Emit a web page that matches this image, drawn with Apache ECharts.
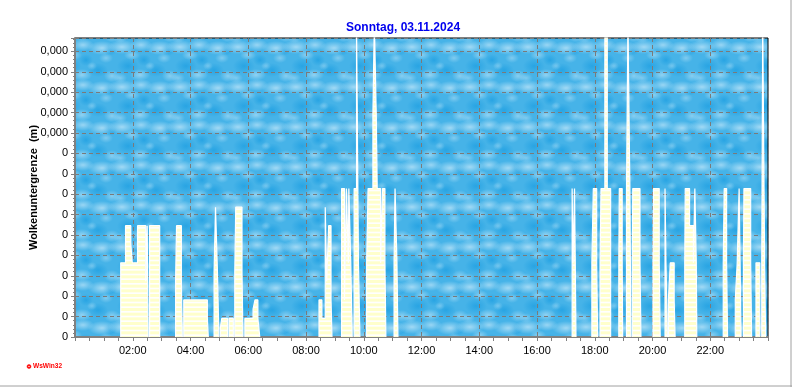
<!DOCTYPE html>
<html><head><meta charset="utf-8">
<script src="https://cdn.jsdelivr.net/npm/echarts@6/dist/echarts.min.js"></script>
<style>html,body{margin:0;padding:0;background:#fff}#c{width:792px;height:387px}</style>
</head><body><div id="c"></div>
<script>
// ---- data ----
const title = 'Sonntag, 03.11.2024';
const yName = 'Wolkenuntergrenze  (m)';
const hourLabels = ['00:00','02:00','04:00','06:00','08:00','10:00','12:00','14:00','16:00','18:00','20:00','22:00','24:00'];
const yTickLabelLow = '0';
const yTickLabelHigh = '0,000';
// cloud base segments: [start minute, end minute, level]
const segments = [
  [95,105,4],[105,116,6],[116,119,5],[119,130,4],[130,147,6],[147,150,3],[150,152,6],
  [155,176,6],
  [209,211,3],[211,221,6],[221,223,3],
  [226,275,2],[275,277,1],
  [289,292,3.5],[292,296,7],[296,299,3.5],
  [302,305,0.5],[305,317,1],
  [320,329,1],
  [332,334,3.5],[334,347,7],[347,349,3.5],
  [353,370,1],[370,374,1.5],[374,380,2],[380,384,1],
  [507,513,2],[513,520,1],[520,523,7],[523,527,3],[527,532,6],[532,534,2],
  [554,560,8],[560,564,2],[564,568,8],[568,569,4],[569,573,8],[573,576,4],
  [580,585,8],[585,589,17],[589,592,4],
  [606,609,4],[609,619,8],[619,622,12],[622,626,17],[626,628,12],[628,635,8],[635,639,4],[639,644,8],[644,646,4],
  [663,665,4],[665,669,8],[669,671,4],
  [1033,1035,8],[1035,1038,4],[1038,1041,8],
  [1074,1077,4],[1077,1084,8],[1084,1086,4],
  [1091,1093,4],[1093,1101,8],[1101,1106,17],[1106,1113,8],
  [1130,1131,4],[1131,1137,8],[1137,1138,4],
  [1146,1149,8],[1149,1153,17],[1153,1155,8],
  [1158,1159,4],[1159,1174,8],[1174,1176,4],
  [1201,1202,4],[1202,1214,8],[1214,1216,4],
  [1226,1228,8],[1228,1231,4],
  [1233,1237,2],[1237,1245,4],[1245,1247,2],
  [1267,1268,4],[1268,1277,8],[1277,1285,6],[1285,1288,4],[1288,1291,8],[1291,1292,4],
  [1347,1349,4],[1349,1354,8],[1354,1356,4],
  [1372,1376,2],[1376,1380,4],[1380,1384,8],
  [1389,1390,4],[1390,1404,8],[1404,1406,4],
  [1415,1423,4],
  [1427,1429,4],[1429,1433,17],[1433,1435,4]
];

// ---- patterns (style only) ----
function stripePattern(){
  const c=document.createElement('canvas'); c.width=4; c.height=14;
  const g=c.getContext('2d');
  g.fillStyle='#ffffcc'; g.fillRect(0,0,4,14);
  g.fillStyle='#ffffff';
  const p=14/3;
  for(let i=0;i<3;i++){ g.fillRect(0,i*p+3,4,p-3); }
  return c;
}
function cloudPattern(){
  const W=58,H=40;
  const c=document.createElement('canvas'); c.width=W; c.height=H;
  const g=c.getContext('2d');
  g.fillStyle='#46b3e8'; g.fillRect(0,0,W,H);
  function blob(x0,y0,rx,ry,col,a){
    for(let dx=-W;dx<=W;dx+=W) for(let dy=-H;dy<=H;dy+=H){
      const x=x0+dx,y=y0+dy;
      g.save(); g.translate(x,y); g.scale(1,ry/rx);
      const rg=g.createRadialGradient(0,0,0,0,0,rx);
      rg.addColorStop(0,'rgba('+col+','+a+')');
      rg.addColorStop(1,'rgba('+col+',0)');
      g.fillStyle=rg; g.fillRect(-rx,-rx,rx*2,rx*2);
      g.restore();
    }
  }
  // darker patches
  [[12,26,11,8],[40,30,10,7],[28,20,7,6],[52,10,7,6]].forEach(b=>blob(b[0],b[1],b[2],b[3],'28,158,225',0.7));
  // light cloud patches
  [[6,7,14,7,0.55],[25,5,11,6,0.5],[44,8,14,7,0.55],[16,15,8,5,0.4],[48,18,7,5,0.35],
   [24,35,10,6,0.45],[54,36,8,6,0.4],[4,38,7,5,0.35],[34,26,5,4,0.3]]
    .forEach(b=>blob(b[0],b[1],b[2],b[3],'235,248,255',b[4]));
  return c;
}

// ---- build groups ----
const groups=[]; let cur=null, lastEnd=null;
segments.forEach(s=>{
  if(cur===null || s[0]!==lastEnd){ cur=[[s[0],0]]; groups.push(cur); }
  cur.push([s[0],s[2]]); cur.push([s[1],s[2]]);
  lastEnd=s[1];
});
groups.forEach(gp=>{ const l=gp[gp.length-1]; gp.push([l[0],0]); });

const stripes=stripePattern();
const series=groups.map(gp=>({
  type:'line', data:gp, showSymbol:false, symbol:'none', animation:false,
  lineStyle:{color:'#ffffff',width:1.2},
  areaStyle:{color:{image:stripes,repeat:'repeat'},opacity:1},
  clip:true, silent:true
}));

const chart=echarts.init(document.getElementById('c'),null,{renderer:'canvas'});
chart.setOption({
  animation:false,
  backgroundColor:'#ffffff',
  title:{text:title,left:341,top:17,textStyle:{color:'#0000ee',fontSize:12,fontWeight:'bold',fontFamily:'Liberation Sans, Arial, sans-serif'}},
  grid:{left:75,right:24,top:38,bottom:50,show:true,borderColor:'#000',borderWidth:1,
        backgroundColor:{image:cloudPattern(),repeat:'repeat'}},
  xAxis:{type:'value',min:0,max:1440,interval:120,
    axisLine:{onZero:false,lineStyle:{color:'#808080',width:2}},
    axisTick:{show:true,length:4,lineStyle:{color:'#808080'}},
    minorTick:{show:true,splitNumber:4,length:4,lineStyle:{color:'#808080'}},
    axisLabel:{showMinLabel:false,showMaxLabel:false,color:'#000',fontSize:11,margin:8,
      fontFamily:'Liberation Sans, Arial, sans-serif',
      formatter:v=>hourLabels[Math.round(v/120)]},
    splitLine:{show:true,lineStyle:{color:'#7a7a7a',type:[4,3],width:1}}
  },
  yAxis:{type:'value',min:0,max:16.12,interval:1.1,
    name:yName,nameLocation:'middle',nameGap:36,nameRotate:90,nameMoveOverlap:false,
    nameTextStyle:{color:'#000',fontSize:11,fontWeight:'bold',fontFamily:'Liberation Sans, Arial, sans-serif'},
    axisLine:{show:true,lineStyle:{color:'#808080',width:2}},
    axisTick:{show:true,length:4,lineStyle:{color:'#808080'}},
    minorTick:{show:true,splitNumber:5,length:2,lineStyle:{color:'#808080'}},
    axisLabel:{showMaxLabel:false,color:'#000',fontSize:11,margin:7,
      fontFamily:'Liberation Sans, Arial, sans-serif',
      formatter:v=>Math.round(v/1.1)>=10?yTickLabelHigh:yTickLabelLow},
    splitLine:{show:true,lineStyle:{color:'#7a7a7a',type:[4,3],width:1}}
  },
  graphic:[
    {type:'circle',shape:{cx:29,cy:366.5,r:2},style:{fill:'#ff0000',stroke:'#ff0000',lineWidth:0.5}},
    {type:'circle',shape:{cx:29,cy:366.5,r:0.7},style:{fill:'#ffffff'}},
    {type:'text',x:33,y:362,scaleX:0.82,style:{text:'WsWin32',fill:'#ff0000',font:'bold 8px Liberation Sans, Arial, sans-serif'}},
    {type:'line',shape:{x1:0,y1:386,x2:792,y2:386},style:{stroke:'#a0a0a0',lineWidth:1}},
    {type:'line',shape:{x1:791,y1:0,x2:791,y2:387},style:{stroke:'#a0a0a0',lineWidth:1}}
  ],
  series:series
});
</script></body></html>
